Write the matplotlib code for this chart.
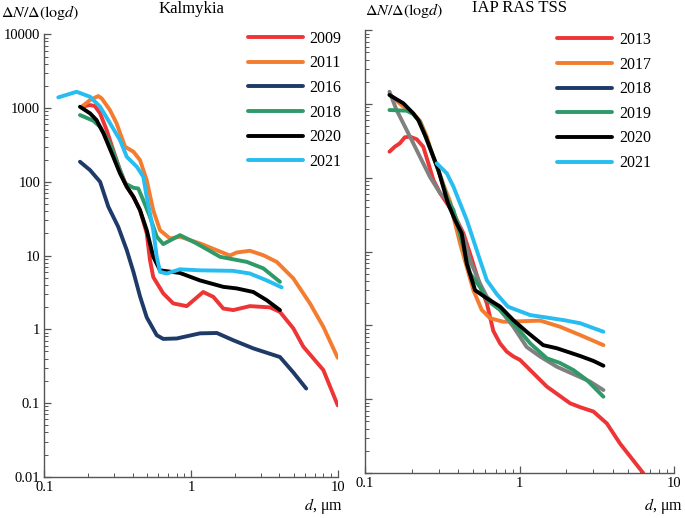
import matplotlib
matplotlib.use("Agg")
import matplotlib.pyplot as plt
from matplotlib.lines import Line2D
from matplotlib.ticker import FixedLocator, LogLocator, FuncFormatter, NullFormatter

plt.rcParams['font.family'] = ['Liberation Serif', 'DejaVu Serif']
plt.rcParams['mathtext.fontset'] = 'stix'

# ---------------- Kalmykia ----------------
k2009_x = [0.180, 0.205, 0.221, 0.240, 0.266, 0.295, 0.328, 0.365, 0.405, 0.449, 0.499, 0.525, 0.553, 0.647, 0.757, 0.935, 1.21, 1.42, 1.66, 1.94, 2.52, 3.46, 4.04, 4.98, 5.83, 7.98, 10.0]
k2009_y = [1042, 1099, 1065, 848, 503, 269, 144, 85.5, 62.5, 41.3, 20, 8.7, 5.1, 3.06, 2.24, 2.06, 3.2, 2.75, 1.91, 1.82, 2.06, 1.98, 1.72, 1.03, 0.58, 0.28, 0.093]

k2011_x = [0.180, 0.205, 0.233, 0.246, 0.280, 0.311, 0.355, 0.405, 0.449, 0.499, 0.553, 0.615, 0.720, 0.841, 1.15, 1.84, 2.05, 2.52, 3.11, 3.84, 4.98, 6.47, 7.98, 10.0]
k2011_y = [1042, 1285, 1455, 1355, 940, 620, 299, 256, 197, 105, 41, 22, 17, 18, 14.6, 10, 11.0, 11.6, 10.1, 8.2, 4.9, 2.24, 1.08, 0.41]

k2016_x = [0.175, 0.205, 0.240, 0.273, 0.319, 0.365, 0.405, 0.449, 0.499, 0.584, 0.647, 0.80, 1.15, 1.50, 1.94, 2.66, 4.04, 4.98, 6.1]
k2016_y = [187, 144, 100, 46, 24.5, 11.8, 6.0, 2.8, 1.45, 0.83, 0.74, 0.75, 0.88, 0.89, 0.71, 0.55, 0.42, 0.26, 0.157]

k2018_x = [0.175, 0.216, 0.240, 0.280, 0.328, 0.355, 0.405, 0.437, 0.473, 0.525, 0.584, 0.647, 0.841, 1.09, 1.58, 2.40, 3.11, 4.04]
k2018_y = [804, 673, 557, 332, 144, 95, 83, 81, 56, 33.5, 18, 14.3, 18.9, 14.6, 9.6, 8.2, 6.7, 4.4]

k2020_x = [0.175, 0.205, 0.227, 0.253, 0.295, 0.328, 0.365, 0.405, 0.449, 0.499, 0.553, 0.615, 0.841, 1.15, 1.66, 2.05, 2.66, 3.28, 4.04]
k2020_y = [1042, 848, 688, 454, 218, 130, 85.5, 62.5, 41.3, 22.1, 9.6, 6.3, 5.8, 4.6, 3.76, 3.58, 3.2, 2.48, 1.82]

k2021_x = [0.1245, 0.166, 0.205, 0.240, 0.280, 0.328, 0.365, 0.427, 0.473, 0.499, 0.553, 0.584, 0.615, 0.683, 0.841, 1.15, 1.93, 2.52, 3.28, 4.15]
k2021_y = [1396, 1663, 1423, 1042, 626, 368, 218, 160, 117, 62, 22, 9.6, 6.0, 5.7, 6.5, 6.3, 6.2, 5.7, 4.6, 3.7]

# ---------------- IAP RAS TSS ----------------
t2013_x = [0.144, 0.156, 0.168, 0.181, 0.195, 0.216, 0.238, 0.257, 0.277, 0.306, 0.344, 0.373, 0.433, 0.477, 0.541, 0.613, 0.676, 0.747, 0.826, 0.910, 1.006, 1.50, 2.12, 2.46, 3.0, 3.66, 4.46, 6.31]
t2013_y = [226, 264, 293, 354, 361, 333, 264, 157, 93, 62, 43, 33, 17.7, 9.5, 4.1, 2.0, 0.84, 0.57, 0.44, 0.38, 0.34, 0.148, 0.088, 0.078, 0.068, 0.047, 0.025, 0.0099]

t2017_x = [0.144, 0.177, 0.205, 0.227, 0.250, 0.271, 0.298, 0.330, 0.355, 0.373, 0.412, 0.455, 0.502, 0.569, 0.644, 0.785, 1.36, 1.82, 2.46, 3.48]
t2017_y = [1352, 919, 740, 590, 370, 215, 125, 70, 48, 29.7, 12.9, 6.2, 3.0, 1.62, 1.25, 1.12, 1.16, 0.96, 0.74, 0.54]

t2018_x = [0.144, 0.160, 0.186, 0.221, 0.263, 0.306, 0.355, 0.392, 0.433, 0.477, 0.554, 0.613, 0.747, 0.910, 1.11, 1.36, 1.74, 2.22, 2.85, 3.48]
t2018_y = [1468, 830, 444, 215, 103, 62, 45, 26.8, 15.9, 7.7, 3.7, 2.45, 1.62, 0.96, 0.51, 0.377, 0.275, 0.219, 0.173, 0.133]

t2019_x = [0.144, 0.186, 0.205, 0.227, 0.251, 0.298, 0.344, 0.373, 0.433, 0.477, 0.554, 0.613, 0.747, 0.910, 1.17, 1.50, 1.82, 2.22, 2.72, 3.48]
t2019_y = [829, 811, 732, 570, 325, 128, 50, 36.6, 11.6, 5.1, 3.3, 2.21, 1.62, 1.07, 0.57, 0.358, 0.31, 0.249, 0.182, 0.108]

t2020_x = [0.144, 0.177, 0.205, 0.221, 0.247, 0.271, 0.298, 0.344, 0.382, 0.422, 0.455, 0.515, 0.613, 0.747, 0.910, 1.11, 1.42, 1.74, 2.46, 3.0, 3.48]
t2020_y = [1324, 1022, 748, 607, 360, 217, 128, 45, 26.8, 17.7, 6.9, 3.0, 2.33, 1.80, 1.18, 0.82, 0.54, 0.49, 0.385, 0.33, 0.284]

t2021_x = [0.291, 0.338, 0.373, 0.412, 0.455, 0.502, 0.554, 0.613, 0.711, 0.841, 1.17, 1.92, 2.46, 3.48]
t2021_y = [157, 115, 76, 45, 26.8, 14.4, 7.7, 4.1, 2.66, 1.79, 1.38, 1.18, 1.07, 0.82]

RED, ORANGE, NAVY, GREEN, BLACK, CYAN, GRAY = '#ee3536', '#f47c2f', '#1e3a68', '#2e9a68', '#000000', '#27bdf0', '#808080'

left_labels = ['2009', '2011', '2016', '2018', '2020', '2021']
left_colors = [RED, ORANGE, NAVY, GREEN, BLACK, CYAN]
left_series = [(k2009_x, k2009_y), (k2011_x, k2011_y), (k2016_x, k2016_y),
               (k2018_x, k2018_y), (k2020_x, k2020_y), (k2021_x, k2021_y)]

right_labels = ['2013', '2017', '2018', '2019', '2020', '2021']
right_legend_colors = [RED, ORANGE, NAVY, GREEN, BLACK, CYAN]
right_line_colors = [RED, ORANGE, GRAY, GREEN, BLACK, CYAN]
right_series = [(t2013_x, t2013_y), (t2017_x, t2017_y), (t2018_x, t2018_y),
                (t2019_x, t2019_y), (t2020_x, t2020_y), (t2021_x, t2021_y)]

x_ticks = [0.1, 1, 10]
y_ticks = [0.01, 0.1, 1, 10, 100, 1000, 10000]

LW = 2.8
fig = plt.figure(figsize=(6.85, 5.18), dpi=100)
ax1 = fig.add_axes([0.0647, 0.0797, 0.4283, 0.854])
ax2 = fig.add_axes([0.5328, 0.0869, 0.4516, 0.8548])

fmt = FuncFormatter(lambda v, p: '%g' % v)
for ax in (ax1, ax2):
    ax.set_xscale('log')
    ax.set_yscale('log')
    ax.set_xlim(0.1, 10)
    ax.set_ylim(0.01, 10000)
    for s in ('top', 'right'):
        ax.spines[s].set_visible(False)
    for s in ('left', 'bottom'):
        ax.spines[s].set_color('#555555')
        ax.spines[s].set_linewidth(1.0)
    ax.xaxis.set_major_locator(FixedLocator(x_ticks))
    ax.yaxis.set_major_locator(FixedLocator(y_ticks))
    ax.xaxis.set_minor_locator(LogLocator(base=10, subs=range(2, 10)))
    ax.yaxis.set_minor_locator(LogLocator(base=10, subs=range(2, 10), numticks=20))
    ax.xaxis.set_minor_formatter(NullFormatter())
    ax.yaxis.set_minor_formatter(NullFormatter())
    ax.xaxis.set_major_formatter(fmt)
    ax.yaxis.set_major_formatter(fmt)
    ax.tick_params(which='both', direction='in', color='#555555', labelsize=10.5, pad=3)
    ax.tick_params(which='major', length=5, width=0.9)
    ax.tick_params(which='minor', length=3, width=0.7)

ax2.tick_params(axis='y', labelleft=False)

for (xs, ys), c in zip(left_series, left_colors):
    ax1.plot(xs, ys, color=c, lw=LW, solid_capstyle='round', solid_joinstyle='round')
for (xs, ys), c in zip(right_series, right_line_colors):
    ax2.plot(xs, ys, color=c, lw=LW, solid_capstyle='round', solid_joinstyle='round')

h1 = [Line2D([], [], color=c, lw=LW, solid_capstyle='round') for c in left_colors]
h2 = [Line2D([], [], color=c, lw=LW, solid_capstyle='round') for c in right_legend_colors]
ax1.legend(h1, left_labels, loc='upper left', bbox_to_anchor=(0.695, 1.008), frameon=False,
           fontsize=11.5, handlelength=3.4, handletextpad=0.45, labelspacing=0.54,
           borderpad=0, borderaxespad=0)
ax2.legend(h2, right_labels, loc='upper left', bbox_to_anchor=(0.622, 0.996), frameon=False,
           fontsize=11.5, handlelength=3.4, handletextpad=0.45, labelspacing=0.54,
           borderpad=0, borderaxespad=0)

ylab = r'$\Delta N/\Delta(\mathrm{log}d)$'
fig.text(1 / 685, 1 - 13 / 518, ylab, ha='left', va='center', fontsize=11.5)
fig.text(365 / 685, 1 - 11 / 518, ylab, ha='left', va='center', fontsize=11.5)
fig.text(191 / 685, 1 - 9 / 518, 'Kalmykia', ha='center', va='center', fontsize=12)
fig.text(520 / 685, 1 - 8 / 518, 'IAP RAS TSS', ha='center', va='center', fontsize=12)
fig.text(343 / 685, 1 - 506 / 518, r'$d$, μm', ha='right', va='center', fontsize=11.5)
fig.text(683 / 685, 1 - 506 / 518, r'$d$, μm', ha='right', va='center', fontsize=11.5)

fig.savefig('out.png', dpi=100)
